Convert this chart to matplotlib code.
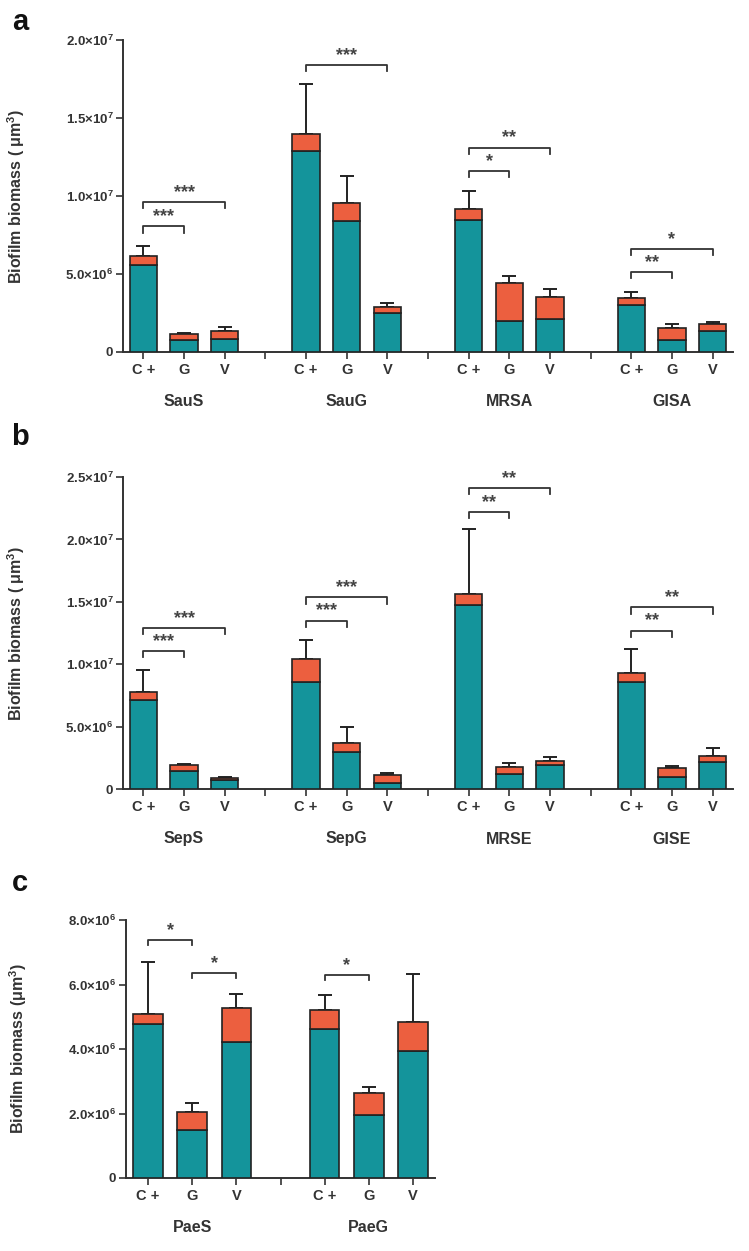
import matplotlib
matplotlib.use('Agg')
import matplotlib.pyplot as plt
import matplotlib.transforms as mtransforms

plt.rcParams['font.family'] = ['Liberation Sans', 'DejaVu Sans']
plt.rcParams['font.weight'] = 'bold'
plt.rcParams['axes.labelweight'] = 'bold'
plt.rcParams['mathtext.default'] = 'regular'

TEAL = '#14949b'
ORANGE = '#ec5f3f'
TXT = '#333333'

conds = ['C +', 'G', 'V']

# panel a
groups_a = ['SauS', 'SauG', 'MRSA', 'GISA']
teal_a = [5.6e6, 0.8e6, 0.85e6, 1.29e7, 0.84e7, 2.5e6, 0.844e7, 1.97e6, 2.1e6, 3.0e6, 0.75e6, 1.35e6]
total_a = [6.15e6, 1.18e6, 1.35e6, 1.40e7, 0.955e7, 2.9e6, 0.917e7, 4.44e6, 3.53e6, 3.48e6, 1.52e6, 1.77e6]
upper_a = [6.8e6, 1.24e6, 1.6e6, 1.72e7, 1.126e7, 3.14e6, 1.03e7, 4.85e6, 4.04e6, 3.85e6, 1.77e6, 1.92e6]
# (group, bar from, bar to, height, stars)
sig_a = [(0, 0, 1, 0.806e7, '***'), (0, 0, 2, 0.96e7, '***'),
         (1, 0, 2, 1.84e7, '***'),
         (2, 0, 1, 1.16e7, '*'), (2, 0, 2, 1.31e7, '**'),
         (3, 0, 1, 0.513e7, '**'), (3, 0, 2, 0.66e7, '*')]
yticks_a = [0, 5e6, 1e7, 1.5e7, 2e7]
ylabels_a = ['0', '5.0×10$^{6}$', '1.0×10$^{7}$', '1.5×10$^{7}$', '2.0×10$^{7}$']

# panel b
groups_b = ['SepS', 'SepG', 'MRSE', 'GISE']
teal_b = [0.714e7, 0.144e7, 0.072e7, 0.856e7, 0.30e7, 0.045e7, 1.476e7, 0.12e7, 0.193e7, 0.856e7, 0.10e7, 0.22e7]
total_b = [0.78e7, 0.193e7, 0.091e7, 1.04e7, 0.366e7, 0.11e7, 1.56e7, 0.174e7, 0.222e7, 0.933e7, 0.168e7, 0.267e7]
upper_b = [0.95e7, 0.20e7, 0.099e7, 1.195e7, 0.50e7, 0.13e7, 2.08e7, 0.206e7, 0.26e7, 1.12e7, 0.187e7, 0.33e7]
sig_b = [(0, 0, 1, 1.107e7, '***'), (0, 0, 2, 1.29e7, '***'),
         (1, 0, 1, 1.35e7, '***'), (1, 0, 2, 1.535e7, '***'),
         (2, 0, 1, 2.22e7, '**'), (2, 0, 2, 2.41e7, '**'),
         (3, 0, 1, 1.27e7, '**'), (3, 0, 2, 1.455e7, '**')]
yticks_b = [0, 5e6, 1e7, 1.5e7, 2e7, 2.5e7]
ylabels_b = ['0', '5.0×10$^{6}$', '1.0×10$^{7}$', '1.5×10$^{7}$', '2.0×10$^{7}$', '2.5×10$^{7}$']

# panel c
groups_c = ['PaeS', 'PaeG']
teal_c = [4.77e6, 1.5e6, 4.23e6, 4.61e6, 1.96e6, 3.94e6]
total_c = [5.09e6, 2.06e6, 5.26e6, 5.21e6, 2.65e6, 4.84e6]
upper_c = [6.71e6, 2.34e6, 5.7e6, 5.68e6, 2.83e6, 6.33e6]
sig_c = [(0, 0, 1, 7.38e6, '*'), (0, 1, 2, 6.35e6, '*'),
         (1, 0, 1, 6.3e6, '*')]
yticks_c = [0, 2e6, 4e6, 6e6, 8e6]
ylabels_c = ['0', '2.0×10$^{6}$', '4.0×10$^{6}$', '6.0×10$^{6}$', '8.0×10$^{6}$']


def draw_panel(ax, groups, teal, total, upper, sig, yticks, ylabels, ylab):
    n = len(groups)
    pos = [4 * g + j for g in range(n) for j in range(3)]
    orange = [t - b for t, b in zip(total, teal)]
    w = 0.67
    ax.bar(pos, teal, w, color=TEAL, edgecolor='#222222', linewidth=1.2, zorder=3)
    ax.bar(pos, orange, w, bottom=teal, color=ORANGE, edgecolor='#222222', linewidth=1.2, zorder=3)
    # upper error bars only
    err = [u - t for u, t in zip(upper, total)]
    ax.errorbar(pos, total, yerr=[[0] * len(pos), err], fmt='none', ecolor='#222222',
                elinewidth=1.4, capsize=4.8, capthick=1.4, zorder=2)

    top = yticks[-1]
    tip = top * 0.02
    for g, a, b, h, s in sig:
        x1, x2 = 4 * g + a, 4 * g + b
        ax.plot([x1, x1, x2, x2], [h - tip, h, h, h - tip], color='#333333', lw=1.3, clip_on=False)
        ax.text((x1 + x2) / 2, h + top * 0.004, s, ha='center', va='bottom', fontsize=13,
                color='#444444', fontweight='bold')

    gaps = [4 * g + 3 for g in range(n - 1)]
    ax.set_xticks(pos + gaps)
    ax.set_xticklabels(conds * n + [''] * len(gaps))
    ax.set_xlim(-0.5, 4 * n - 1.5)
    ax.set_ylim(0, top)
    ax.set_yticks(yticks)
    ax.set_yticklabels(ylabels)
    ax.tick_params(axis='x', length=5, width=1.2, colors='#333333', labelsize=10.5, pad=3)
    ax.tick_params(axis='y', length=5, width=1.2, colors='#333333', labelsize=9.5, pad=2)
    for lab in ax.get_xticklabels() + ax.get_yticklabels():
        lab.set_color(TXT)
    for sp in ['top', 'right']:
        ax.spines[sp].set_visible(False)
    for sp in ['left', 'bottom']:
        ax.spines[sp].set_linewidth(1.4)
        ax.spines[sp].set_color('#333333')

    trans = mtransforms.blended_transform_factory(ax.transData, ax.transAxes)
    for g, name in enumerate(groups):
        ax.annotate(name, xy=(4 * g + 1, 0), xycoords=trans, xytext=(0, -36),
                    textcoords='offset points', ha='center', va='center',
                    fontsize=11.5, color=TXT)
    ax.set_ylabel(ylab, fontsize=11.5, color=TXT, fontweight='bold')


fig = plt.figure(figsize=(7.49, 12.51), dpi=100)
H = 1251.0
W = 749.0
ax_a = fig.add_axes([123 / W, 1 - 352 / H, 610 / W, 312 / H])
ax_b = fig.add_axes([123 / W, 1 - 789 / H, 610 / W, 312 / H])
ax_c = fig.add_axes([126 / W, 1 - 1178 / H, 309 / W, 258 / H])

draw_panel(ax_a, groups_a, teal_a, total_a, upper_a, sig_a, yticks_a, ylabels_a,
           'Biofilm biomass ( $\\mu$m$^{3}$)')
draw_panel(ax_b, groups_b, teal_b, total_b, upper_b, sig_b, yticks_b, ylabels_b,
           'Biofilm biomass ( $\\mu$m$^{3}$)')
draw_panel(ax_c, groups_c, teal_c, total_c, upper_c, sig_c, yticks_c, ylabels_c,
           'Biofilm biomass ($\\mu$m$^{3}$)')

ax_a.yaxis.set_label_coords(-(123 - 27) / 610, 0.5)
ax_b.yaxis.set_label_coords(-(123 - 27) / 610, 0.5)
ax_c.yaxis.set_label_coords(-(126 - 29) / 309, 0.5)

for letter, y in [('a', 22), ('b', 437), ('c', 883)]:
    fig.text(20 / W, 1 - y / H, letter, fontsize=21, fontweight='bold', ha='center', va='center',
             color='#111111')

fig.savefig('out.png', dpi=100)
